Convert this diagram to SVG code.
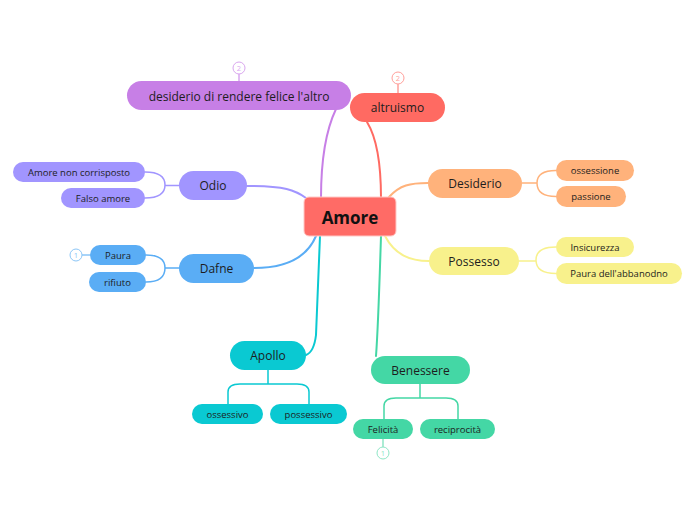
<svg xmlns="http://www.w3.org/2000/svg" width="696" height="520" viewBox="0 0 696 520">
<style>
text{font-family:"Open Sans","Noto Sans","Liberation Sans",sans-serif;fill:#1d1d1d;text-anchor:middle;dominant-baseline:central}
.main{font-size:12px}
.sub{font-size:9.5px}
.root{font-size:17px;font-weight:bold;fill:#111}
.badge{font-size:7.5px}
.c{fill:none;stroke-width:2;stroke-linecap:round}
.cc{fill:none;stroke-width:1.5;stroke-linecap:round}
</style>
<rect width="696" height="520" fill="#fff"/>
<g id="connectors">
<path class="c" stroke="#C77FE6" d="M321,198 C321,160 326,130 336,109"/>
<path class="c" stroke="#FF6A62" d="M381,198 C381,160 375,135 367,122"/>
<path class="c" stroke="#A195FF" d="M247,186 C285,186 295,190 306,198"/>
<path class="c" stroke="#5AADF5" d="M254,268 C290,268 308,255 316,236"/>
<path class="c" stroke="#0AC9D2" d="M320,236 L316,335 Q314,352 306,355"/>
<path class="c" stroke="#44D7A5" d="M381,236 C379,300 378,330 376,356"/>
<path class="c" stroke="#FFB27B" d="M389,197 C400,185 410,183 428,183"/>
<path class="c" stroke="#F8F18C" d="M385,236 C395,255 410,261 429,261"/>
<path class="cc" stroke="#A195FF" d="M179,185.5 L165,185.5 M145,172 Q165,172 165,185 Q165,198 145,198"/>
<path class="cc" stroke="#5AADF5" d="M179,268 L165,268 M146,255 Q165,255 165,268 Q165,282 146,282"/>
<path class="cc" stroke="#FFB27B" d="M522,183 L537,183 M556,170.5 Q537,170.5 537,183 Q537,196.5 556,196.5"/>
<path class="cc" stroke="#F8F18C" d="M519,261 L536,261 M556,247 Q536,247 536,260 Q536,273.5 556,273.5"/>
<path class="cc" stroke="#0AC9D2" d="M268,370 L268,384 M228,404 L228,392 Q228,384 240,384 L297,384 Q309,384 309,392 L309,404"/>
<path class="cc" stroke="#44D7A5" d="M420,384 L420,398 M384,419 L384,406 Q384,398 396,398 L446,398 Q458,398 458,406 L458,419"/>
<path class="cc" stroke="#d9a6ef" d="M239,74 L239,81"/>
<path class="cc" stroke="#ff9f9a" d="M398,84 L398,93"/>
<path class="cc" stroke="#8cc6f7" d="M82,255 L90,255"/>
<path class="cc" stroke="#8fe6c6" d="M383,439 L383,447"/>
</g>
<g id="amore">
<rect x="304" y="197" width="92" height="39" rx="5" fill="#FF6B66" stroke="#ffc9c6" stroke-width="1"/>
<text class="root" x="350" y="217">Amore</text>
</g>
<g id="desiderio-altro">
<rect x="127" y="81" width="224" height="29" rx="14.5" fill="#C77FE6"/>
<text class="main" x="239" y="96">desiderio di rendere felice l'altro</text>
<circle cx="239" cy="68" r="6" fill="#fff" stroke="#d9a6ef"/>
<text class="badge" x="239" y="68" style="fill:#d9a6ef">2</text>
</g>
<g id="altruismo">
<rect x="350" y="93" width="95" height="29" rx="14.5" fill="#FF6A62"/>
<text class="main" x="397.5" y="107.5">altruismo</text>
<circle cx="398" cy="78" r="6" fill="#fff" stroke="#ff9f9a"/>
<text class="badge" x="398" y="78" style="fill:#ff9f9a">2</text>
</g>
<g id="odio">
<rect x="179" y="171" width="68" height="29" rx="14.5" fill="#A195FF"/>
<text class="main" x="213" y="185.5">Odio</text>
</g>
<g id="amore-non-corrisposto">
<rect x="13" y="162" width="132" height="20" rx="10" fill="#A195FF"/>
<text class="sub" x="79" y="172">Amore non corrisposto</text>
</g>
<g id="falso-amore">
<rect x="61" y="188" width="84" height="20" rx="10" fill="#A195FF"/>
<text class="sub" x="103" y="198">Falso amore</text>
</g>
<g id="dafne">
<rect x="179" y="254" width="75" height="29" rx="14.5" fill="#5AADF5"/>
<text class="main" x="216.5" y="268.5">Dafne</text>
</g>
<g id="paura">
<rect x="90" y="245" width="56" height="20" rx="10" fill="#5AADF5"/>
<text class="sub" x="118" y="255">Paura</text>
<circle cx="76" cy="255" r="6" fill="#fff" stroke="#8cc6f7"/>
<text class="badge" x="76" y="255" style="fill:#8cc6f7">1</text>
</g>
<g id="rifiuto">
<rect x="89" y="272" width="57" height="20" rx="10" fill="#5AADF5"/>
<text class="sub" x="117.5" y="282">rifiuto</text>
</g>
<g id="desiderio">
<rect x="428" y="169" width="94" height="29" rx="14.5" fill="#FFB27B"/>
<text class="main" x="475" y="183.5">Desiderio</text>
</g>
<g id="ossessione">
<rect x="556" y="160" width="78" height="21" rx="10.5" fill="#FFB27B"/>
<text class="sub" x="595" y="170.5">ossessione</text>
</g>
<g id="passione">
<rect x="556" y="186" width="70" height="21" rx="10.5" fill="#FFB27B"/>
<text class="sub" x="591" y="196.5">passione</text>
</g>
<g id="possesso">
<rect x="429" y="247" width="90" height="28" rx="14" fill="#F8F18C"/>
<text class="main" x="474" y="261">Possesso</text>
</g>
<g id="insicurezza">
<rect x="556" y="237" width="78" height="20" rx="10" fill="#F8F18C"/>
<text class="sub" x="595" y="247">Insicurezza</text>
</g>
<g id="paura-abbandono">
<rect x="556" y="263" width="126" height="21" rx="10.5" fill="#F8F18C"/>
<text class="sub" x="619" y="273.5">Paura dell'abbanodno</text>
</g>
<g id="apollo">
<rect x="230" y="341" width="76" height="29" rx="14.5" fill="#0AC9D2"/>
<text class="main" x="268" y="355.5">Apollo</text>
</g>
<g id="ossessivo">
<rect x="192" y="404" width="71" height="20" rx="10" fill="#0AC9D2"/>
<text class="sub" x="227.5" y="414">ossessivo</text>
</g>
<g id="possessivo">
<rect x="270" y="404" width="77" height="20" rx="10" fill="#0AC9D2"/>
<text class="sub" x="308.5" y="414">possessivo</text>
</g>
<g id="benessere">
<rect x="371" y="356" width="99" height="28" rx="14" fill="#44D7A5"/>
<text class="main" x="420.5" y="370">Benessere</text>
</g>
<g id="felicita">
<rect x="353" y="419" width="60" height="20" rx="10" fill="#44D7A5"/>
<text class="sub" x="383" y="429">Felicità</text>
<circle cx="383" cy="453" r="6" fill="#fff" stroke="#8fe6c6"/>
<text class="badge" x="383" y="453" style="fill:#8fe6c6">1</text>
</g>
<g id="reciprocita">
<rect x="420" y="419" width="75" height="20" rx="10" fill="#44D7A5"/>
<text class="sub" x="457.5" y="429">reciprocità</text>
</g>
</svg>
